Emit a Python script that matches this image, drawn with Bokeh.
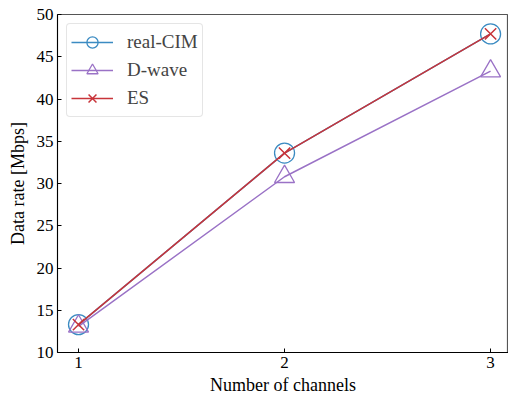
from bokeh.plotting import figure
from bokeh.embed import file_html
from bokeh.resources import INLINE
from bokeh.models import Legend, LegendItem, FixedTicker, Range1d

channels = [1, 2, 3]
real_cim = [13.3, 33.6, 47.7]
d_wave = [13.1, 30.8, 43.3]
es = [13.3, 33.6, 47.7]
x_ticks = [1, 2, 3]
y_ticks = [10, 15, 20, 25, 30, 35, 40, 45, 50]

FONT = "Liberation Serif"
BLUE = "#3b8bc2"
PURPLE = "#9a72c6"
RED = "#c8343a"

p = figure(width=508, height=400, output_backend="svg", toolbar_location=None,
           x_range=Range1d(0.898, 3.087), y_range=Range1d(10, 50),
           min_border_left=57, min_border_right=0, min_border_top=14, min_border_bottom=48)
p.grid.visible = False
p.outline_line_color = "#555555"
p.outline_line_width = 1.2
p.background_fill_color = "white"
p.border_fill_color = "white"

for ax in (p.xaxis[0], p.yaxis[0]):
    ax.major_label_text_font = FONT
    ax.major_label_text_font_size = "17px"
    ax.major_label_text_color = "black"
    ax.axis_label_text_font = FONT
    ax.axis_label_text_font_size = "18px"
    ax.axis_label_text_font_style = "normal"
    ax.axis_label_text_color = "black"
    ax.major_tick_in = 4
    ax.major_tick_out = 0
    ax.minor_tick_in = 0
    ax.minor_tick_out = 0
    ax.axis_line_color = "black"
    ax.major_tick_line_color = "black"

p.xaxis.ticker = FixedTicker(ticks=x_ticks)
p.yaxis.ticker = FixedTicker(ticks=y_ticks)
p.xaxis.axis_label = "Number of channels"
p.yaxis.axis_label = "Data rate [Mbps]"
p.xaxis.major_label_standoff = 4
p.yaxis.major_label_standoff = 4
p.xaxis.axis_label_standoff = 4
p.yaxis.axis_label_standoff = 6

l1 = p.line(channels, real_cim, line_color=BLUE, line_width=1.5)
s1 = p.scatter(channels, real_cim, marker="circle", size=20, fill_color=None, line_color=BLUE, line_width=1.3)
l2 = p.line(channels, d_wave, line_color=PURPLE, line_width=1.5)
s2 = p.scatter(channels, d_wave, marker="triangle", size=20, fill_color=None, line_color=PURPLE, line_width=1.3)
l3 = p.line(channels, es, line_color=RED, line_width=1.5)
s3 = p.scatter(channels, es, marker="x", size=16, line_color=RED, line_width=1.5)

legend = Legend(items=[
    LegendItem(label="real-CIM", renderers=[l1, s1]),
    LegendItem(label="D-wave", renderers=[l2, s2]),
    LegendItem(label="ES", renderers=[l3, s3]),
], location="top_left")
legend.margin = 9
legend.padding = 4
legend.spacing = 0
legend.glyph_width = 42
legend.glyph_height = 28
legend.label_standoff = 14
legend.label_text_font = FONT
legend.label_text_font_size = "19px"
legend.border_line_color = "#cccccc"
legend.border_line_width = 1
legend.border_radius = 4
legend.background_fill_alpha = 0.8
p.add_layout(legend, "center")

open("out.html", "w").write(file_html(p, INLINE))
